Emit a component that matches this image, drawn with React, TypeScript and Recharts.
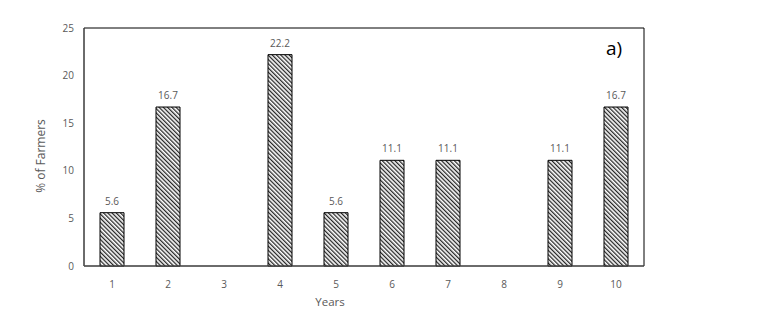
import React from 'react';
import { BarChart, Bar, XAxis, YAxis, LabelList, CartesianGrid } from 'recharts';

const YEARS = ['1', '2', '3', '4', '5', '6', '7', '8', '9', '10'];
const FARMERS = [5.6, 16.7, null, 22.2, 5.6, 11.1, 11.1, null, 11.1, 16.7];
const Y_TICKS = [0, 5, 10, 15, 20, 25];

const data = YEARS.map((y, i) => ({ year: y, pct: FARMERS[i] }));

const GREY = '#595959';
const FONT = '"Open Sans", "DejaVu Sans", sans-serif';

const App: React.FC = () => {
  return (
    <div style={{ position: 'absolute', left: 0, top: 0, width: 773, height: 318, background: '#fff', fontFamily: FONT }}>
      <BarChart width={773} height={318} data={data} margin={{ top: 28, right: 129, bottom: 22, left: 24 }}>
        <defs>
          <pattern id="hatch" width="3" height="3" patternUnits="userSpaceOnUse" patternTransform="rotate(-45)">
            <rect width="3" height="3" fill="#fff" />
            <line x1="0.7" y1="0" x2="0.7" y2="3" stroke="#000" strokeWidth="1.1" />
          </pattern>
        </defs>
        {/* frame around plot area */}
        <CartesianGrid
          stroke="#000"
          horizontalCoordinatesGenerator={({ offset }: any) => [offset.top, offset.top + offset.height]}
          verticalCoordinatesGenerator={({ offset }: any) => [offset.left, offset.left + offset.width]}
        />
        <XAxis
          dataKey="year"
          height={30}
          axisLine={{ stroke: GREY }}
          tickLine={false}
          tickMargin={9}
          tick={{ fontSize: 10, fill: GREY, fontFamily: FONT }}
          interval={0}
          label={({ viewBox }: any) => (
            <text x={viewBox.x + viewBox.width / 2 - 34} y={306} textAnchor="middle" fontSize={11.5} fill={GREY} fontFamily={FONT}>
              Years
            </text>
          )}
        />
        <YAxis
          width={60}
          domain={[0, 25]}
          ticks={Y_TICKS}
          axisLine={{ stroke: GREY }}
          tickLine={false}
          tickMargin={4}
          tick={{ fontSize: 10, fill: GREY, fontFamily: FONT }}
          label={({ viewBox }: any) => (
            <text
              x={viewBox.x + 21}
              y={viewBox.y + viewBox.height / 2 + 9}
              transform={`rotate(-90, ${viewBox.x + 21}, ${viewBox.y + viewBox.height / 2 + 9})`}
              textAnchor="middle"
              fontSize={12}
              fill={GREY}
              fontFamily={FONT}
            >
              % of Farmers
            </text>
          )}
        />
        <Bar dataKey="pct" barSize={24} fill="url(#hatch)" stroke="#000" strokeWidth={1} isAnimationActive={false}>
          <LabelList dataKey="pct" position="top" offset={8} fill={GREY} fontSize={10} fontFamily={FONT} />
        </Bar>
      </BarChart>
      <div style={{ position: 'absolute', left: 606, top: 37, fontSize: 19, lineHeight: '22px', color: '#000', fontFamily: FONT }}>a)</div>
    </div>
  );
};

export default App;
